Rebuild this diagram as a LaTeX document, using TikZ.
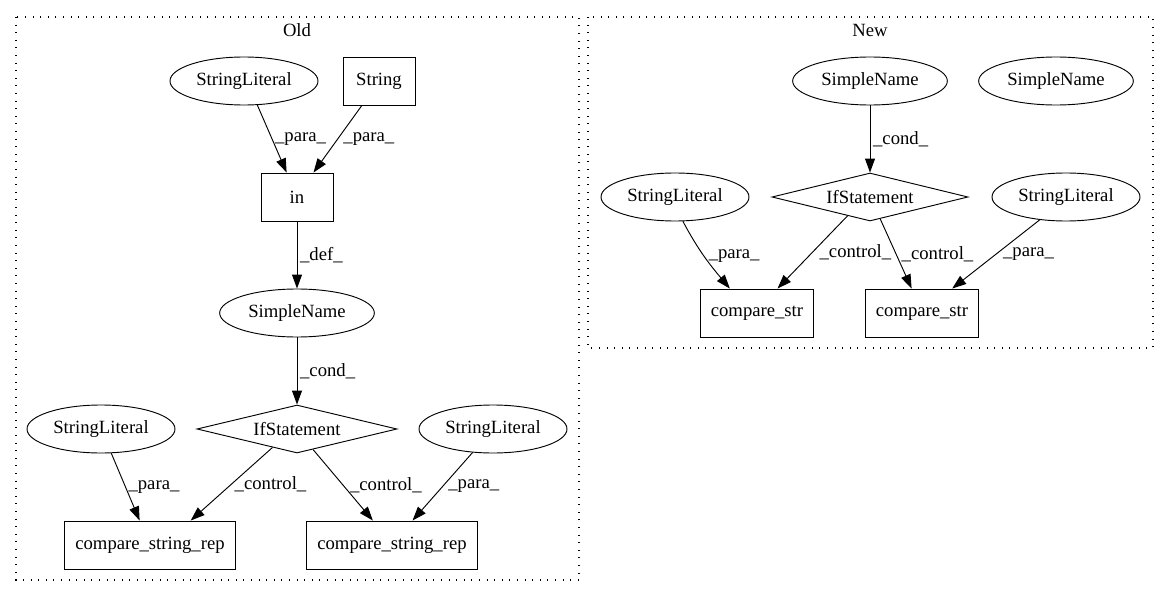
\documentclass[tikz,border=0pt]{standalone}
\usepackage{fontspec}
\setmainfont{Liberation Serif}
\usetikzlibrary{arrows.meta,shapes.geometric}

\begin{document}
\begin{tikzpicture}[x=0.75pt,y=-0.75pt,node distance=87pt,font=\fontsize{14}{16}\selectfont]
\tikzstyle{ell}=[ellipse,draw=black,line width=0.7pt,minimum height=36pt,inner sep=0pt]
\tikzstyle{sl}=[ell,minimum width=111pt]
\tikzstyle{sn}=[ell,minimum width=116pt]
\tikzstyle{bx}=[rectangle,draw=black,line width=0.7pt,minimum width=54pt,minimum height=36pt,inner xsep=8pt]
\tikzstyle{ifs}=[diamond,draw=black,line width=0.7pt,aspect=4.2,minimum width=150pt,minimum height=36pt,inner sep=0pt]
\tikzstyle{lbl}=[anchor=west,inner sep=2pt]
\tikzstyle{edg}=[-{Triangle[length=10.5pt,width=7.5pt]},line width=0.7pt]
\tikzstyle{clu}=[draw=black,line width=0.8pt,dash pattern=on 0.8pt off 4.9pt]

\useasboundingbox (0,0) rectangle (1168,596);
\draw[clu] (16,17) rectangle (579,580);
\draw[clu] (588,17) rectangle (1153,348);
\node (oldlbl) at (297,30) {Old};
\node (newlbl) at (870,30) {New};

% Old
\node (osl1) [sl] at (244,81) {StringLiteral};
\node (ostr) [bx] at (379,81) {String};
\node (oin) [bx] at (297,197) {in};
\node (osn) [sn,below of=oin] {SimpleName};
\node (oif) [ifs,below of=osn] {IfStatement};
\node (osl2) [sl] at (101,429) {StringLiteral};
\node (osl3) [sl] at (493,429) {StringLiteral};
\node (ocr1) [bx] at (150,545) {compare\_string\_rep};
\node (ocr2) [bx] at (392,545) {compare\_string\_rep};

\draw[edg] (osl1.-61) -- node[lbl] {\_para\_} (oin.113);
\draw[edg] (ostr.-125) -- node[lbl,inner sep=4pt] {\_para\_} (oin.56);
\draw[edg] (oin) -- node[lbl] {\_def\_} (osn);
\draw[edg] (osn) -- node[lbl] {\_cond\_} (oif);
\draw[edg] (oif.-143) -- node[lbl] {\_control\_} (ocr1.31);
\draw[edg] (oif.-52) -- node[lbl,inner sep=5pt] {\_control\_} (ocr2.128);
\draw[edg] (osl3.-131) -- node[lbl,inner sep=4pt] {\_para\_} (ocr2.50);
\draw[edg] (osl2.-67) -- node[lbl] {\_para\_} (ocr1.113);

% New
\node (nsn1) [sn] at (870,81) {SimpleName};
\node (nsn2) [sn] at (1056,81) {SimpleName};
\node (nif) [ifs,minimum width=147pt,below of=nsn1] {IfStatement};
\node (nsl1) [sl] at (675,197) {StringLiteral};
\node (nsl2) [sl] at (1066,197) {StringLiteral};
\node (ncs1) [bx] at (757,313) {compare\_str};
\node (ncs2) [bx] at (922,313) {compare\_str};

\draw[edg] (nsn1) -- node[lbl] {\_cond\_} (nif);
\draw[edg] (nif.-140) -- node[lbl,inner sep=5pt] {\_control\_} (ncs1.50);
\draw[edg] (nif.-65) -- node[lbl,inner sep=4pt] {\_control\_} (ncs2.113);
\draw[edg] (nsl2.-139) -- node[lbl,inner sep=5pt] {\_para\_} (ncs2.39);
\draw[edg] (nsl1.-72) to[out=-62,in=130] node[lbl,inner sep=3pt] {\_para\_} (ncs1.138);
\end{tikzpicture}
\end{document}
